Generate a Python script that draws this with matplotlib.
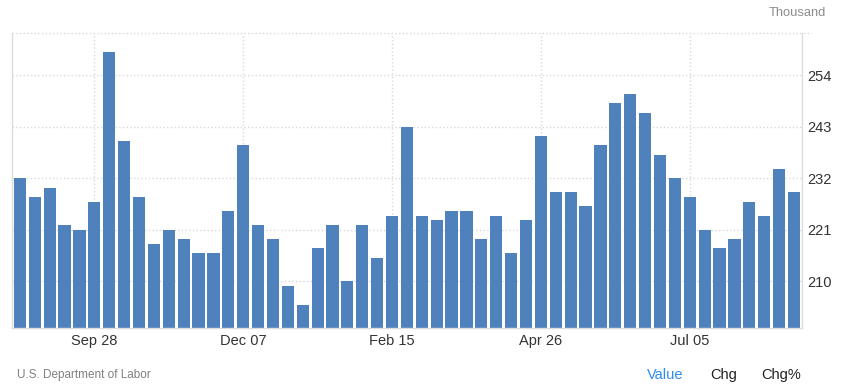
import numpy as np
import pandas as pd
import matplotlib
matplotlib.use('Agg')
import matplotlib.pyplot as plt

plt.rcParams['font.family'] = ['Liberation Sans', 'DejaVu Sans']

# weekly initial jobless claims, thousands (week ending Aug 24 2024 ... Aug 23 2025)
weeks = pd.date_range('2024-08-24', periods=53, freq='7D')
claims = [232, 228, 230, 222, 221, 227, 259, 240, 228, 218,
          221, 219, 216, 216, 225, 239, 222, 219, 209, 205,
          217, 222, 210, 222, 215, 224, 243, 224, 223, 225,
          225, 219, 224, 216, 223, 241, 229, 229, 226, 239,
          248, 250, 246, 237, 232, 228, 221, 217, 219, 227,
          224, 234, 229]
tick_idx = [5, 15, 25, 35, 45]
tick_labels = [weeks[i].strftime('%b %d') for i in tick_idx]
y_ticks = [210, 221, 232, 243, 254]

bar_color = '#4f81bd'
grid_color = '#d9d9d9'

fig = plt.figure(figsize=(8.43, 3.87), dpi=100)
ax = fig.add_axes([12 / 843, 1 - 328 / 387, 790 / 843, 295 / 387])

x = np.arange(len(claims))
ax.bar(x, claims, width=0.82, color=bar_color, zorder=2)

ax.set_xlim(-0.53, len(claims) - 0.46)
ax.set_ylim(200, 263)
ax.set_xticks(tick_idx)
ax.set_xticklabels(tick_labels)
ax.set_yticks(y_ticks)
ax.yaxis.tick_right()
ax.tick_params(axis='both', length=0, labelsize=10.5, colors='#333333')
ax.tick_params(axis='x', pad=4)
ax.tick_params(axis='y', pad=4)

ax.grid(True, linestyle=':', color=grid_color, linewidth=1, zorder=0)
for side in ['left', 'bottom', 'right']:
    ax.spines[side].set_color('#dddddd')
    ax.spines[side].set_linewidth(1)
ax.spines['top'].set_visible(False)
# dotted top border runs a little past the right axis line
ax.axhline(263, xmin=0, xmax=1.012, clip_on=False, linestyle=':',
           color=grid_color, linewidth=1, zorder=1)

fig.text(826 / 843, 1 - 13 / 387, 'Thousand', ha='right', va='center',
         fontsize=9.3, color='#8c8c8c')
fig.text(17 / 843, 1 - 375 / 387, 'U.S. Department of Labor', ha='left',
         va='center', fontsize=8.5, color='#808080')
fig.text(647 / 843, 1 - 375 / 387, 'Value', ha='left', va='center',
         fontsize=10.5, color='#2d8cf0')
fig.text(710 / 843, 1 - 375 / 387, 'Chg', ha='left', va='center',
         fontsize=10.5, color='#222222')
fig.text(761 / 843, 1 - 375 / 387, 'Chg%', ha='left', va='center',
         fontsize=10.5, color='#222222')

plt.savefig('out.png', dpi=100)
